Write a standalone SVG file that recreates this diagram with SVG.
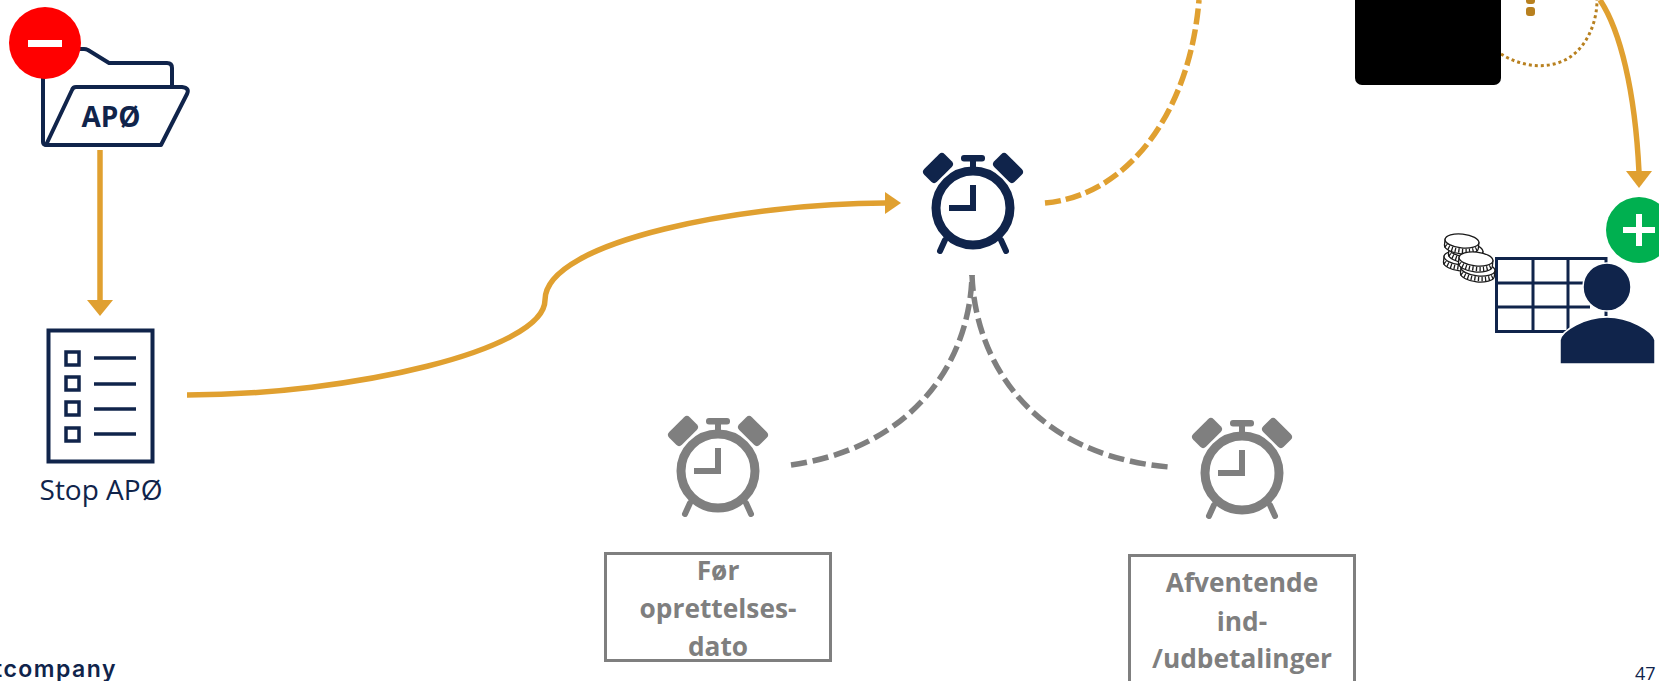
<svg xmlns="http://www.w3.org/2000/svg" width="1659" height="681" viewBox="0 0 1659 681">
<style>
.navy{color:#10244b}
.grey{color:#7f7f7f}
.nl{fill:none;stroke:#10244b;stroke-width:4}
.or{fill:none;stroke:#e0a030;stroke-width:5.5}
.orf{fill:#e0a030}
.gd{fill:none;stroke:#7f7f7f;stroke-width:5.5;stroke-dasharray:16 6}
.gb{fill:#fff;stroke:#7f7f7f;stroke-width:3}
.gt{font:bold 26.300px "Open Sans","Liberation Sans",sans-serif;fill:#7f7f7f;text-anchor:middle}
.coin{fill:#fff;stroke:#1a1a1a;stroke-width:1.300}
.hatch{fill:none;stroke:#1a1a1a;stroke-width:4.500;stroke-dasharray:1.300 2.200}
</style>
<defs>
<g id="clock" fill="currentColor">
<circle cx="0" cy="0" r="37" fill="none" stroke="currentColor" stroke-width="9"/>
<rect x="-3" y="-23" width="6" height="26"/>
<rect x="-24" y="-3" width="27" height="6"/>
<rect x="-12" y="-53" width="24" height="6.500" rx="3"/>
<rect x="-3" y="-50" width="6" height="12"/>
<rect x="-14.500" y="-9" width="29" height="18" rx="4" transform="translate(-35,-40) rotate(-45)"/>
<rect x="-14.500" y="-9" width="29" height="18" rx="4" transform="translate(35,-40) rotate(45)"/>
<path d="M-28,32L-33,43M28,32L33,43" stroke="currentColor" stroke-width="6" stroke-linecap="round" fill="none"/>
</g>
<g id="coin">
<path class="coin" d="M-17,0V6C-17,10 -8,13 0,13C8,13 17,10 17,6V0Z"/>
<path class="hatch" d="M-16,6C-10,11 10,11 16,6"/>
<ellipse class="coin" cx="0" cy="0" rx="17" ry="7"/>
</g>
</defs>
<g id="connectors">
<path class="or" d="M100,150V300"/>
<polygon class="orf" points="87,300 113,300 100,316"/>
<path class="or" d="M187,395C350,395 545,350 545,300C545,240 750,203 885,203"/>
<polygon class="orf" points="885,192 885,214 901,203"/>
<path class="or" stroke-dasharray="16 5" d="M1045,203C1130,195 1190,110 1199,0"/>
<path class="or" d="M1600,0C1620,30 1635,90 1639,172"/>
<polygon class="orf" points="1626,171 1652,171 1639,188"/>
<path fill="none" stroke="#b8801f" stroke-width="3" stroke-dasharray="3 3" d="M1501,54C1520,66 1545,70 1565,60C1585,50 1597,25 1597,0"/>
<path class="gd" d="M791,465C915,447 970,360 972,275"/>
<path class="gd" d="M972,275C975,360 1030,455 1169,467"/>
</g>
<g id="node-black">
<rect x="1355" y="-20" width="146" height="105" rx="7" fill="#000"/>
<rect x="1526" y="-5" width="9" height="9" rx="3" fill="#b8801f"/>
<rect x="1526" y="7" width="9" height="9" rx="3" fill="#b8801f"/>
</g>
<g id="node-apo">
<path class="nl" d="M43,78V142Q43,145 47,145M80,49H84Q86,49 88,50L109,63H167Q172,63 172,68V87"/>
<path class="nl" stroke-linejoin="round" d="M46,145L72,90Q73,87 76,87H182Q190,88 187,94L161,145Z"/>
<circle cx="45" cy="43" r="36" fill="#f00"/>
<rect x="28" y="40" width="34" height="7" fill="#fff"/>
<text x="111" y="127" font-family="Open Sans, Liberation Sans, sans-serif" font-weight="700" font-size="28" text-anchor="middle" fill="#10244b">APØ</text>
</g>
<g id="node-stop">
<rect class="nl" x="48.500" y="330.500" width="104" height="131"/>
<g class="nl" style="stroke-width:3.500">
<rect x="66" y="352" width="13" height="13"/>
<rect x="66" y="377" width="13" height="13"/>
<rect x="66" y="402" width="13" height="13"/>
<rect x="66" y="428" width="13" height="13"/>
<path d="M94,358H136M94,384H136M94,409H136M94,434H136"/>
</g>
<text x="101" y="500" font-family="Open Sans, Liberation Sans, sans-serif" font-size="28" text-anchor="middle" fill="#10244b">Stop APØ</text>
</g>
<g id="node-clock-main" class="navy"><use href="#clock" x="973" y="208"/></g>
<g id="node-clock-left" class="grey"><use href="#clock" x="718" y="471"/></g>
<g id="node-clock-right" class="grey"><use href="#clock" x="1242" y="473"/></g>
<g id="node-before">
<rect class="gb" x="605.500" y="553.500" width="225" height="107"/>
<text class="gt" x="718" y="580">Før</text>
<text class="gt" x="718" y="618">oprettelses-</text>
<text class="gt" x="718" y="656">dato</text>
</g>
<g id="node-pending">
<rect class="gb" x="1129.500" y="555.500" width="225" height="140"/>
<text class="gt" x="1242" y="592">Afventende</text>
<text class="gt" x="1242" y="631">ind-</text>
<text class="gt" x="1242" y="668">/udbetalinger</text>
</g>
<g id="node-person">
<path class="nl" style="stroke-width:3" d="M1606,283V258.500H1496.500V331.500H1568M1496,283H1590M1496,307H1590M1533,258V331M1568,258V331"/>
<path d="M1606,310V316" stroke="#10244b" stroke-width="3"/>
<circle cx="1607" cy="287" r="24" fill="#10244b" stroke="#fff" stroke-width="1.500"/>
<path d="M1560,364V340C1562,330 1585,317 1607,317C1629,317 1652,330 1655,340V364Z" fill="#10244b" stroke="#fff" stroke-width="1.500"/>
<use href="#coin" transform="translate(1461,258) rotate(6)"/>
<use href="#coin" transform="translate(1466,250) rotate(6)"/>
<use href="#coin" transform="translate(1462,241) rotate(6)"/>
<use href="#coin" transform="translate(1478,269) rotate(6)"/>
<use href="#coin" transform="translate(1476,259) rotate(6)"/>
<circle cx="1639" cy="230" r="33" fill="#00b050"/>
<path d="M1623,230H1655M1639,214V246" stroke="#fff" stroke-width="6" fill="none"/>
</g>
<g id="footer">
<text x="-6" y="677" font-family="Inter, Liberation Sans, sans-serif" font-weight="600" font-size="23" letter-spacing="1.500" fill="#10244b">tcompany</text>
<text x="1635" y="680" font-family="Open Sans, Liberation Sans, sans-serif" font-size="18" fill="#10244b">47</text>
</g>
</svg>
